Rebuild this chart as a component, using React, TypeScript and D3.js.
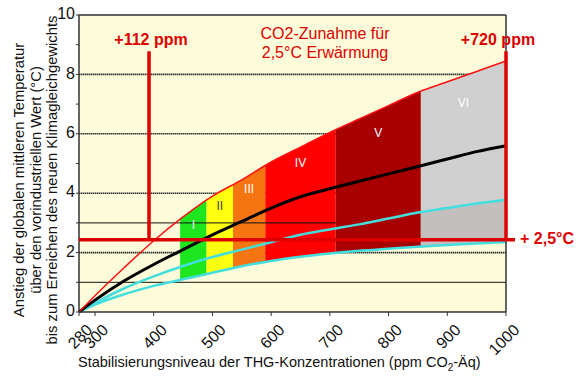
import React from 'react';
import * as d3 from 'd3';

// ---- data ----
const ppm = [280, 300, 350, 400, 450, 500, 550, 600, 650, 700, 750, 800, 850, 900, 950, 1000];
const upperRed = [0, 0.55, 1.5, 2.4, 3.2, 3.9, 4.45, 5.05, 5.55, 6.05, 6.5, 6.95, 7.4, 7.75, 8.1, 8.45];
const bestBlack = [0, 0.4, 1.05, 1.6, 2.1, 2.6, 3.05, 3.5, 3.88, 4.15, 4.4, 4.65, 4.9, 5.15, 5.4, 5.6];
const cyanUpper = [0, 0.3, 0.8, 1.2, 1.55, 1.85, 2.1, 2.35, 2.6, 2.78, 2.95, 3.15, 3.35, 3.5, 3.65, 3.78];
const cyanLower = [0, 0.25, 0.6, 0.88, 1.1, 1.32, 1.54, 1.72, 1.86, 1.97, 2.06, 2.13, 2.2, 2.26, 2.31, 2.36];

const categories = ['I', 'II', 'III', 'IV', 'V', 'VI'];
const catStart = [445, 490, 535, 590, 710, 855];
const catEnd = [490, 535, 590, 710, 855, 1000];

const xTicks = [280, 300, 400, 500, 600, 700, 800, 900, 1000];
const yTicks = [0, 1, 2, 3, 4, 5, 6, 7, 8, 9, 10];
const yLabels = [0, 2, 4, 6, 8, 10];
const gridMajor = [2, 4, 6, 8];
const gridMinor = [1];
const gridOver = 3;

const warming = 2.43;
const ppmLow = 392;
const ppmHigh = 1000;
const vTop = 8.78;

const yTitle = [
  'Anstieg der globalen mittleren Temperatur',
  'über den vorindustriellen Wert (°C)',
  'bis zum Erreichen des neuen Klimagleichgewichts',
];

// ---- styles ----
const catColors = ['#1ee61e', '#ffff10', '#f57512', '#ff0000', '#a80000', '#d0d0d0'];
const catLabelColors = ['#ffffff', '#444444', '#ffffff', '#ffffff', '#ffffff', '#ffffff'];
const catLabelDy = [16, 15, 14, 17, 24, 28];
const FONT = '"Liberation Sans", Arial, sans-serif';
const RED = '#dd0000';
const CYAN = '#44dede';

function interp(arr: number[], v: number) {
  return d3.scaleLinear().domain(ppm).range(arr)(v);
}

export default function App() {
  const x = d3.scaleLinear().domain([280, 300, 1000]).range([79, 95, 506]);
  const y = d3.scaleLinear().domain([0, 10]).range([312, 15]);
  const idx = ppm.map((_, i) => i);

  const line = (arr: number[]) =>
    d3.line<number>().x((i) => x(ppm[i])).y((i) => y(arr[i])).curve(d3.curveMonotoneX)(idx) || '';
  const area = (lo: number[], hi: number[]) =>
    d3
      .area<number>()
      .x((i) => x(ppm[i]))
      .y0((i) => y(lo[i]))
      .y1((i) => y(hi[i]))
      .curve(d3.curveMonotoneX)(idx) || '';

  const bandArea = area(cyanLower, upperRed);
  const lowerVI = area(cyanLower, cyanUpper);
  const x0 = x(280), x1 = x(1000), yb = y(0), yt = y(10);

  return (
    <svg width={583} height={377} style={{ position: 'absolute', left: 0, top: 0, background: '#fff' }} fontFamily={FONT}>
      <defs>
        {categories.map((c, i) => (
          <clipPath id={'band' + i} key={c}>
            <rect x={x(catStart[i])} y={0} width={x(catEnd[i]) - x(catStart[i])} height={377} />
          </clipPath>
        ))}
        <clipPath id="gridOver">
          <rect x={x0} y={0} width={x(catStart[4]) - x0} height={377} />
        </clipPath>
      </defs>
      <rect x={x0} y={yt} width={x1 - x0} height={yb - yt} fill="#fcfcda" />
      {gridMajor.map((g) => (
        <line key={'gm' + g} x1={x0} x2={x1} y1={y(g)} y2={y(g)} stroke="#333" strokeWidth={1.6} strokeDasharray="1.5 0.5" />
      ))}
      {gridMinor.map((g) => (
        <line key={'gn' + g} x1={x0} x2={x1} y1={y(g)} y2={y(g)} stroke="#111" strokeWidth={1} />
      ))}
      {categories.map((c, i) => (
        <path key={'b' + c} d={bandArea} fill={catColors[i]} clipPath={`url(#band${i})`} />
      ))}
      <path d={lowerVI} fill="#c3bfbf" clipPath="url(#band5)" />
      <line x1={x0} x2={x1} y1={y(gridOver)} y2={y(gridOver)} stroke="#111" strokeWidth={1} clipPath="url(#gridOver)" />
      {categories.map((c, i) => {
        const mid = (catStart[i] + catEnd[i]) / 2;
        return (
          <text key={'l' + c} x={x(mid)} y={y(interp(upperRed, mid)) + catLabelDy[i]} textAnchor="middle"
            dominantBaseline="middle" fontSize={12} fill={catLabelColors[i]}>{c}</text>
        );
      })}
      <path d={line(cyanLower)} fill="none" stroke={CYAN} strokeWidth={2.5} />
      <path d={line(cyanUpper)} fill="none" stroke={CYAN} strokeWidth={2.5} />
      <path d={line(bestBlack)} fill="none" stroke="#000" strokeWidth={3} />
      <path d={line(upperRed)} fill="none" stroke="#ff1010" strokeWidth={1.5} />

      {/* frame */}
      <line x1={x0} x2={x1} y1={yt} y2={yt} stroke="#333" strokeWidth={1.5} />
      <line x1={x1} x2={x1} y1={yt} y2={yb} stroke="#333" strokeWidth={1.5} />
      <line x1={x0} x2={x0} y1={yt} y2={yb} stroke="#333" strokeWidth={1.5} />
      <line x1={x0} x2={x1} y1={yb} y2={yb} stroke="#333" strokeWidth={1.5} />
      {yTicks.map((t) => (
        <line key={'yt' + t} x1={x0 - 3} x2={x0} y1={y(t)} y2={y(t)} stroke="#333" strokeWidth={1} />
      ))}
      {xTicks.map((t) => (
        <line key={'xt' + t} x1={x(t)} x2={x(t)} y1={yb} y2={yb + 4} stroke="#333" strokeWidth={1} />
      ))}
      {yLabels.map((t) => (
        <text key={'yl' + t} x={x0 - 4} y={y(t)} textAnchor="end" dominantBaseline="middle" fontSize={16} fill="#111">{t}</text>
      ))}
      {xTicks.map((t) => (
        <text key={'xl' + t} transform={`translate(${x(t) + 6.5},${yb + 11}) rotate(-45)`} textAnchor="end"
          dy="0.7em" fontSize={16} fill="#111">{t}</text>
      ))}

      {/* red markers */}
      <line x1={x0} x2={515} y1={y(warming)} y2={y(warming)} stroke={RED} strokeWidth={3.5} />
      <line x1={x(ppmLow)} x2={x(ppmLow)} y1={y(warming)} y2={y(vTop)} stroke={RED} strokeWidth={3.5} />
      <line x1={x(ppmHigh)} x2={x(ppmHigh)} y1={y(warming)} y2={y(vTop)} stroke={RED} strokeWidth={3.5} />
      <text x={x(ppmLow) + 2} y={45} textAnchor="middle" fontSize={16} fontWeight="bold" fill={RED}>+{ppmLow - 280} ppm</text>
      <text x={498} y={45} textAnchor="middle" fontSize={16} fontWeight="bold" fill={RED}>+{ppmHigh - 280} ppm</text>
      <text x={325} y={39} textAnchor="middle" fontSize={16} fill={RED}>CO2-Zunahme für</text>
      <text x={325} y={58} textAnchor="middle" fontSize={16} fill={RED}>2,5°C Erwärmung</text>
      <text x={520} y={y(warming)} dominantBaseline="middle" fontSize={16} fontWeight="bold" fill={RED}>+ 2,5°C</text>

      {/* axis titles */}
      <text x={78} y={367} fontSize={14.5} fill="#111">
        Stabilisierungsniveau der THG-Konzentrationen (ppm CO<tspan fontSize={10} dy={4}>2</tspan><tspan dy={-4}>-Äq)</tspan>
      </text>
      {yTitle.map((s, i) => (
        <text key={'yt' + i} transform={`translate(${24 + i * 16.5},180) rotate(-90)`} textAnchor="middle" fontSize={14.8} fill="#111">{s}</text>
      ))}
    </svg>
  );
}
